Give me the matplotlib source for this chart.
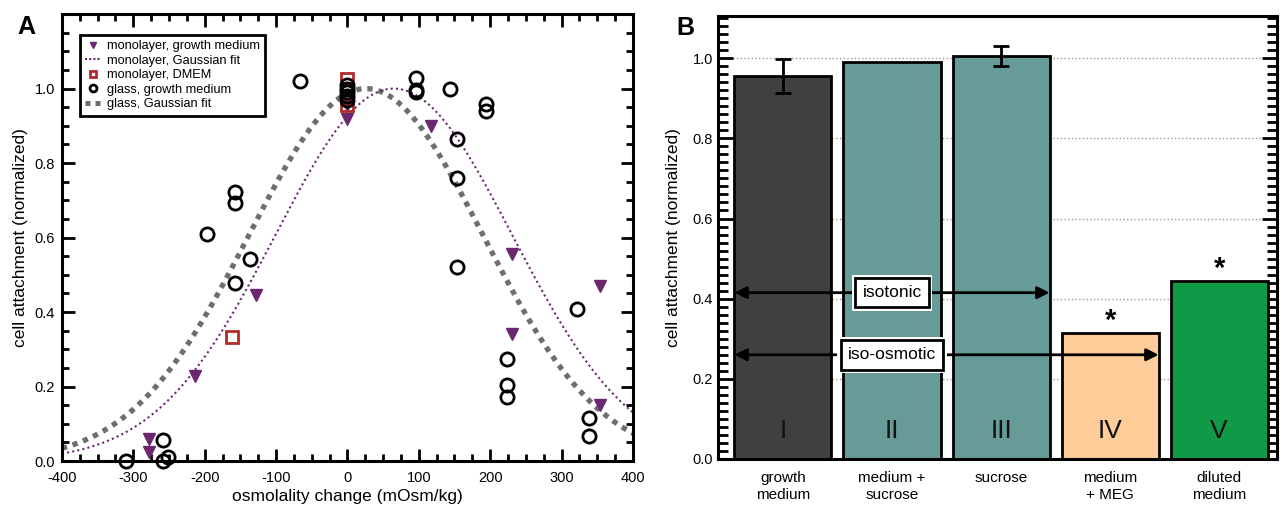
import matplotlib
matplotlib.use('Agg')
import matplotlib.pyplot as plt
import matplotlib.ticker as tick
from matplotlib.lines import Line2D
import numpy as np

plt.rcParams['font.family'] = ['Liberation Sans', 'DejaVu Sans']
plt.rcParams['axes.unicode_minus'] = False

# ---- panel A data ----
glass_x = [-310, -258, -258, -251, -197, -157, -157, -157, -136, -67,
           0, 0, 0, 0, 0, 96, 96, 96, 144, 153, 153, 153, 194, 194,
           223, 223, 223, 322, 338, 338]
glass_y = [0.0, 0.056, 0.0, 0.01, 0.609, 0.722, 0.692, 0.477, 0.543, 1.021,
           1.01, 1.0, 0.99, 0.98, 0.97, 1.029, 0.995, 0.99, 0.999, 0.864, 0.759, 0.522,
           0.959, 0.94, 0.275, 0.204, 0.171, 0.409, 0.115, 0.068]
mono_x = [-278, -278, -214, -128, 0, 0, 117, 230, 230, 354, 354]
mono_y = [0.058, 0.023, 0.229, 0.447, 0.955, 0.918, 0.9, 0.556, 0.34, 0.471, 0.15]
dmem_x = [-162, 0, 0, 0, 0]
dmem_y = [0.332, 1.025, 1.0, 0.975, 0.955]

# gaussian fit parameters (amplitude, centre, sigma)
mono_fit = (1.0, 65, 166)
glass_fit = (1.0, 26, 164)

# ---- panel B data ----
conditions = ['growth\nmedium', 'medium +\nsucrose', 'sucrose', 'medium\n+ MEG', 'diluted\nmedium']
numerals = ['I', 'II', 'III', 'IV', 'V']
attachment = [0.955, 0.99, 1.005, 0.315, 0.445]
errors = [0.042, 0, 0.025, 0, 0]
significant = [False, False, False, True, True]
bar_colors = ['#404040', '#669b98', '#669b98', '#fdcc98', '#0f9a48']

PURPLE = '#6b2870'
RED = '#b22a2a'
GRAY = '#6e6e6e'

fig = plt.figure(figsize=(12.83, 5.05), dpi=100)
axA = fig.add_axes([0.0483, 0.0871, 0.445, 0.885])
axB = fig.add_axes([0.5596, 0.0911, 0.4357, 0.877])

# ---------- A ----------
xs = np.linspace(-400, 400, 500)
def gauss(x, p):
    a, c, s = p
    return a * np.exp(-(x - c) ** 2 / (2 * s ** 2))

axA.plot(xs, gauss(xs, glass_fit), color=GRAY, lw=3.8, ls=(0, (1, 1.1)),
         dash_capstyle='butt', zorder=2)
axA.plot(xs, gauss(xs, mono_fit), color=PURPLE, lw=1.5, ls=(0, (1, 1.5)), zorder=2)
axA.plot(mono_x, mono_y, 'v', color=PURPLE, ms=9, mec=PURPLE, ls='none',
         clip_on=False, zorder=3)
axA.plot(dmem_x, dmem_y, 's', mfc='none', mec=RED, mew=2, ms=9, ls='none',
         clip_on=False, zorder=4)
axA.plot(glass_x, glass_y, 'o', mfc='none', mec='black', mew=2, ms=9.5, ls='none',
         clip_on=False, zorder=5)

axA.set_xlim(-400, 400)
axA.set_ylim(0, 1.2)
axA.xaxis.set_major_locator(tick.MultipleLocator(100))
axA.xaxis.set_minor_locator(tick.MultipleLocator(25))
axA.yaxis.set_major_locator(tick.FixedLocator([0, 0.2, 0.4, 0.6, 0.8, 1.0]))
axA.yaxis.set_major_formatter(tick.FormatStrFormatter('%.1f'))
axA.yaxis.set_minor_locator(tick.MultipleLocator(0.05))
axA.tick_params(which='both', direction='in', top=True, right=True, width=2,
                labelsize=10.5)
axA.tick_params(which='major', length=9)
axA.tick_params(which='minor', length=5)
axA.tick_params(axis='x', pad=7)
axA.tick_params(axis='y', pad=5)
for sp in axA.spines.values():
    sp.set_linewidth(2.2)
axA.set_xlabel('osmolality change (mOsm/kg)', fontsize=12.5, labelpad=3)
axA.set_ylabel('cell attachment (normalized)', fontsize=12.5, labelpad=5)

handles = [
    Line2D([], [], marker='v', color=PURPLE, ls='none', ms=5),
    Line2D([], [], color=PURPLE, lw=1.5, ls=(0, (1, 1))),
    Line2D([], [], marker='s', mfc='none', mec=RED, mew=2, ls='none', ms=5),
    Line2D([], [], marker='o', mfc='none', mec='black', mew=2, ls='none', ms=5),
    Line2D([], [], color=GRAY, lw=3.6, ls=(0, (1, 1)), dash_capstyle='butt'),
]
labels = ['monolayer, growth medium', 'monolayer, Gaussian fit', 'monolayer, DMEM',
          'glass, growth medium', 'glass, Gaussian fit']
leg = axA.legend(handles, labels, loc='upper left', bbox_to_anchor=(0.0315, 0.953),
                 borderaxespad=0, fontsize=9.2, frameon=True, fancybox=False,
                 framealpha=1, edgecolor='black', handlelength=1.25,
                 handletextpad=0.45, labelspacing=0.2, borderpad=0.4)
leg.get_frame().set_linewidth(2)

# ---------- B ----------
pos = np.arange(len(attachment))
axB.bar(pos, attachment, width=0.89, color=bar_colors, edgecolor='black', lw=2, zorder=2)
for i in pos:
    if errors[i] > 0:
        axB.errorbar(i, attachment[i], yerr=errors[i], color='black', lw=2,
                     capsize=6, capthick=2, zorder=3)
    axB.text(i, 0.07, numerals[i], ha='center', va='center', fontsize=19,
             color='#111111', zorder=4)
    if significant[i]:
        axB.text(i, attachment[i] + 0.03, '*', ha='center', va='center',
                 fontsize=21, fontweight='bold', zorder=4)

half = 0.445
arrows = [('isotonic', 0.415, 2), ('iso-osmotic', 0.26, 3)]
for name, yv, last in arrows:
    axB.annotate('', xy=(last + half, yv), xytext=(-half, yv),
                 arrowprops=dict(arrowstyle='<|-|>', color='black', lw=2,
                                 mutation_scale=18, shrinkA=0, shrinkB=0), zorder=5)
    axB.text(1.0, yv, name, ha='center', va='center', fontsize=12.5, color='white',
             bbox=dict(boxstyle='square,pad=0.6', fc='white', ec='none'), zorder=6)
    axB.text(1.0, yv, name, ha='center', va='center', fontsize=12.5, zorder=7,
             bbox=dict(boxstyle='square,pad=0.42', fc='white', ec='black', lw=2))

axB.set_xlim(-0.596, 4.53)
axB.set_ylim(0, 1.105)
axB.set_xticks(pos)
axB.set_xticklabels(conditions, fontsize=11)
axB.yaxis.set_major_locator(tick.MultipleLocator(0.2))
axB.yaxis.set_major_formatter(tick.FormatStrFormatter('%.1f'))
axB.yaxis.set_minor_locator(tick.MultipleLocator(0.02))
axB.tick_params(axis='y', which='both', direction='in', left=True, right=True,
                width=2, labelsize=10.5)
axB.tick_params(axis='y', which='major', length=11)
axB.tick_params(axis='y', which='minor', length=7)
axB.tick_params(axis='x', length=0, pad=9)
axB.yaxis.grid(True, ls=':', color='#9a9a9a', lw=1)
axB.set_axisbelow(True)
for sp in axB.spines.values():
    sp.set_linewidth(2.2)
axB.set_ylabel('cell attachment (normalized)', fontsize=12.5, labelpad=8)

fig.text(26 / 1283, 1 - 27 / 505, 'A', fontsize=18, fontweight='bold',
         ha='center', va='center')
fig.text(685 / 1283, 1 - 28 / 505, 'B', fontsize=18, fontweight='bold',
         ha='center', va='center')

fig.savefig('out.png', dpi=100)
